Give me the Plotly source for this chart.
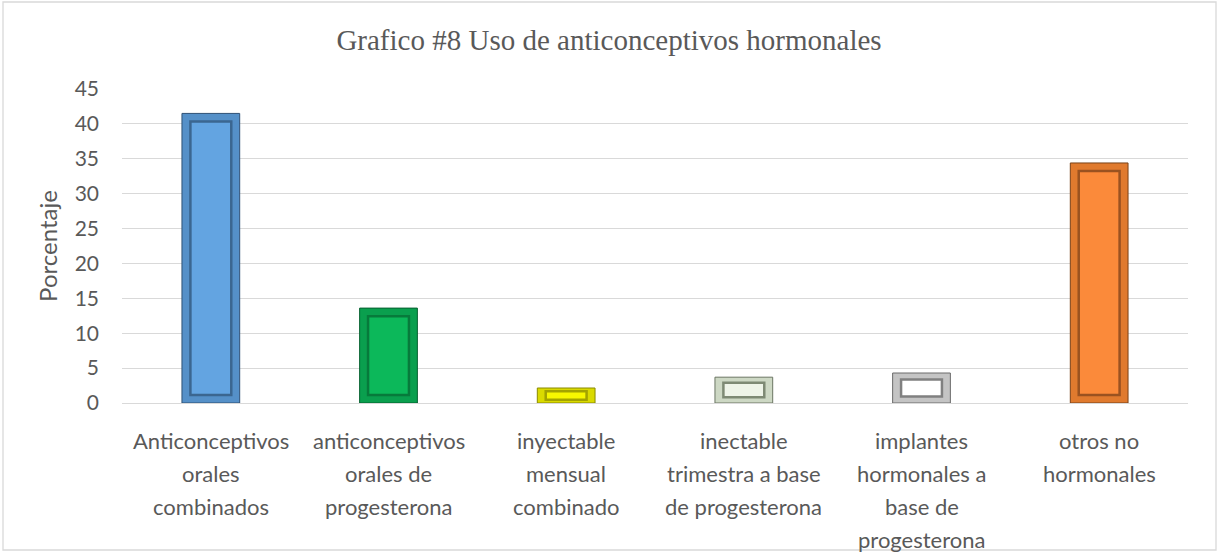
import plotly.graph_objects as go

categories = [
    "Anticonceptivos orales combinados",
    "anticonceptivos orales de progesterona",
    "inyectable mensual combinado",
    "inectable trimestra a base de progesterona",
    "implantes hormonales a base de progesterona",
    "otros no hormonales",
]
label_lines = [
    ["Anticonceptivos", "orales", "combinados"],
    ["anticonceptivos", "orales de", "progesterona"],
    ["inyectable", "mensual", "combinado"],
    ["inectable", "trimestra a base", "de progesterona"],
    ["implantes", "hormonales a", "base de", "progesterona"],
    ["otros no", "hormonales"],
]
values = [41.5, 13.6, 2.15, 3.7, 4.3, 34.4]
y_ticks = [0, 5, 10, 15, 20, 25, 30, 35, 40, 45]

fill_colors = ["#63a4e1", "#0cb85a", "#f7f700", "#eef4e8", "#ffffff", "#fb8a3a"]
frame_colors = ["#5590c8", "#0a9f4e", "#dada00", "#cdd8c4", "#c4c4c4", "#e07a2e"]
ring_colors = ["#3b6690", "#077a3b", "#a3a300", "#7e8a74", "#808080", "#9a5220"]
edge_colors = ["#2f5175", "#05602f", "#8a8a00", "#6b7563", "#6a6a6a", "#7a4218"]

W, H = 1218, 553
ML, MR, MT, MB = 122, 30, 89, 150
font_family = "Lato, 'Open Sans', sans-serif"
text_color = "#595959"

insets = [min(1.15, v * 0.22) for v in values]

fig = go.Figure()
fig.add_trace(go.Bar(
    x=categories, y=values, width=0.325,
    marker=dict(color=frame_colors, line=dict(color=edge_colors, width=1)),
    hoverinfo="x+y", showlegend=False,
))
fig.add_trace(go.Bar(
    x=categories, y=[v - 2 * i for v, i in zip(values, insets)], base=insets,
    width=0.23,
    marker=dict(color=fill_colors, line=dict(color=ring_colors, width=2.5)),
    hoverinfo="skip", showlegend=False,
))

annotations = []
for cat, lines in zip(categories, label_lines):
    for k, line in enumerate(lines):
        annotations.append(dict(
            x=cat, y=0, xref="x", yref="y", text=line, showarrow=False,
            yanchor="middle", xanchor="center", yshift=-(37 + 33 * k),
            font=dict(family=font_family, size=22, color=text_color),
        ))

pw = W - ML - MR
ph = H - MT - MB
fig.update_layout(
    width=W, height=H,
    margin=dict(l=ML, r=MR, t=MT, b=MB, pad=0),
    barmode="overlay",
    plot_bgcolor="white", paper_bgcolor="white",
    title=dict(
        text="Grafico #8 Uso de anticonceptivos hormonales",
        x=0.5, xanchor="center", y=1 - 40 / H, yanchor="middle",
        font=dict(family="'Liberation Serif', 'Times New Roman', serif", size=29, color=text_color),
    ),
    xaxis=dict(showticklabels=False, showgrid=False, showline=False, ticks=""),
    yaxis=dict(
        range=[0, 45], tickvals=y_ticks, showgrid=True, gridcolor="#d9d9d9", gridwidth=1.3,
        zeroline=True, zerolinecolor="#d9d9d9", zerolinewidth=1.3,
        showline=False, ticks="", ticklabelstandoff=22,
        tickfont=dict(family=font_family, size=21, color=text_color),
        title=dict(text="Porcentaje", standoff=10,
                   font=dict(family=font_family, size=24, color=text_color)),
    ),
    annotations=annotations,
    shapes=[dict(
        type="rect", xref="paper", yref="paper", layer="below",
        x0=-(ML - 3) / pw, x1=1 + (MR - 2) / pw,
        y0=-(MB - 3) / ph, y1=1 + (MT - 2) / ph,
        line=dict(color="#d9d9d9", width=1.3), fillcolor="rgba(0,0,0,0)",
    )],
)

fig.write_html(
    "out.html",
    config={"displayModeBar": False},
    post_script="document.body.style.margin='0';document.body.style.overflow='hidden';",
)
